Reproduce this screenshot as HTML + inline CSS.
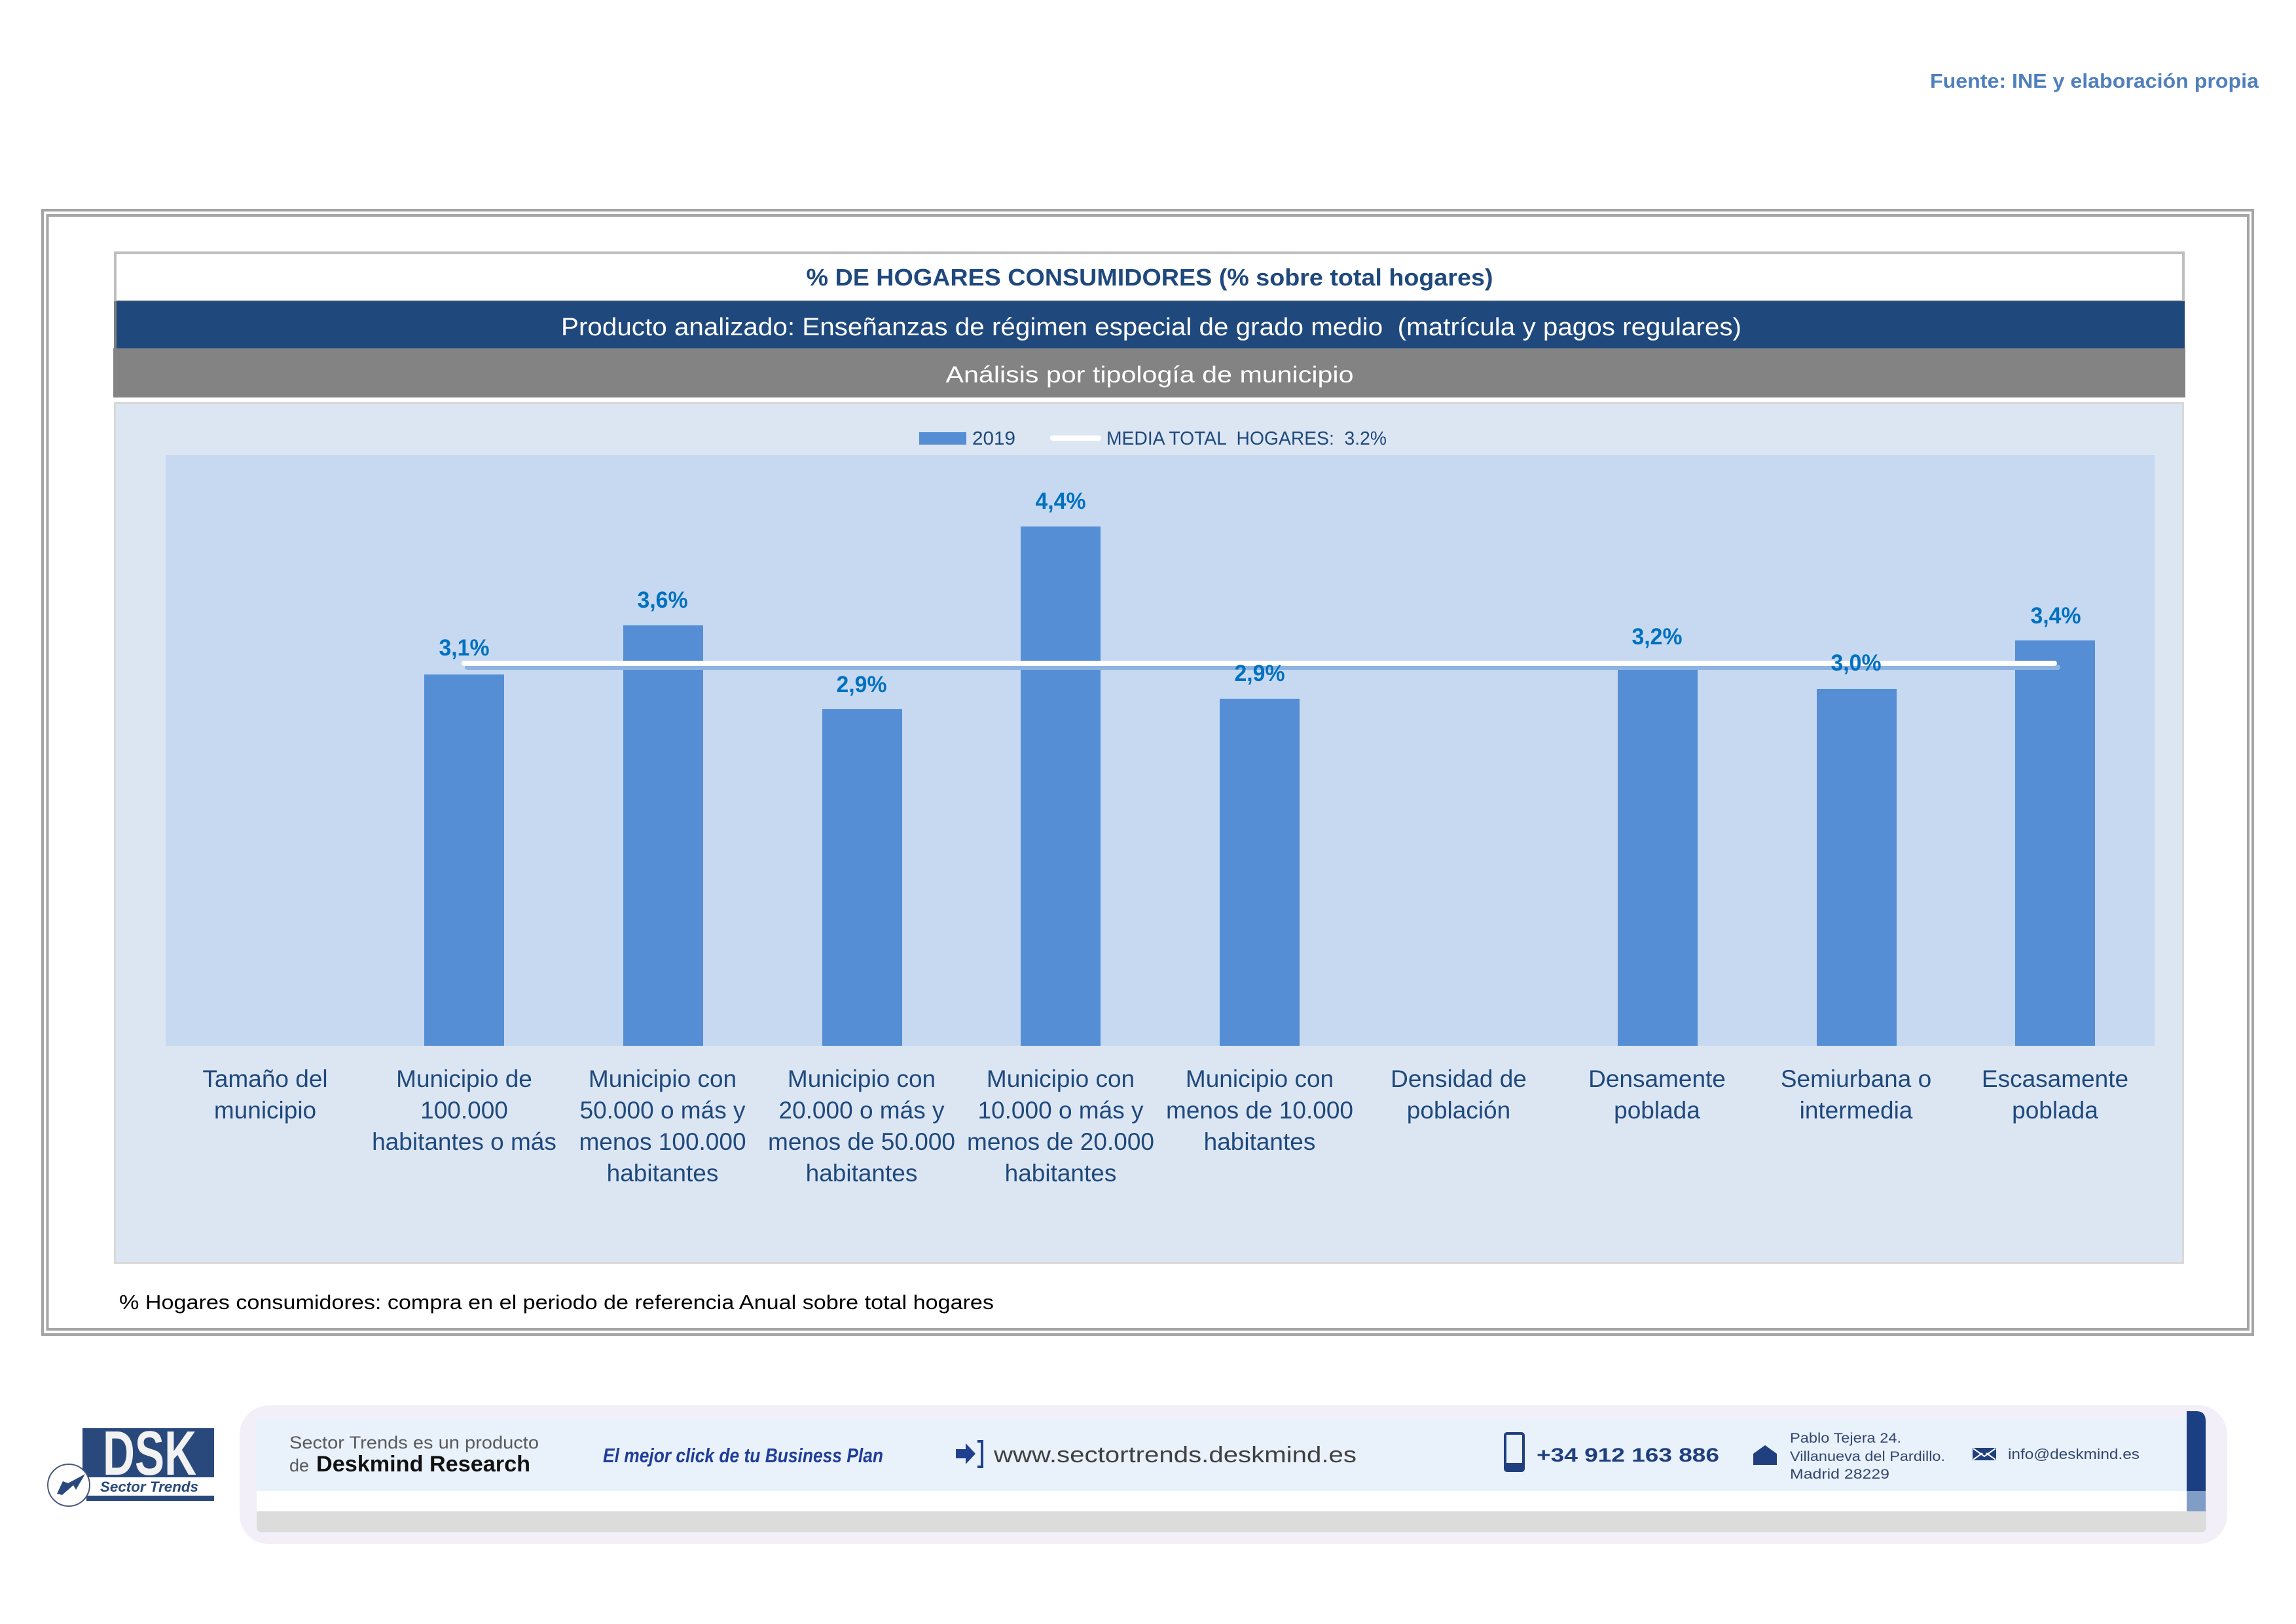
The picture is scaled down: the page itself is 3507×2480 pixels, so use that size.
<!DOCTYPE html>
<html>
<head>
<meta charset="utf-8">
<style>
html,body{margin:0;padding:0;background:#ffffff;}
body{width:3507px;height:2480px;overflow:hidden;}
svg{display:block;}
text{font-family:"Liberation Sans",Arial,sans-serif;}
</style>
</head>
<body>
<svg width="3507" height="2480" viewBox="0 0 3507 2480" xmlns="http://www.w3.org/2000/svg">
<rect x="0" y="0" width="3507" height="2480" fill="#ffffff"/>

<!-- Source -->
<text x="2948" y="134" font-size="31" font-weight="bold" fill="#4f7fbd" textLength="502" lengthAdjust="spacingAndGlyphs">Fuente: INE y elaboración propia</text>

<!-- Outer double border -->
<rect x="65" y="321" width="3376" height="1717" fill="none" stroke="#a5a5a5" stroke-width="4"/>
<rect x="72.5" y="329" width="3361.5" height="1701" fill="none" stroke="#a5a5a5" stroke-width="4"/>

<!-- Title box -->
<rect x="176" y="386" width="3159" height="74" fill="#ffffff" stroke="#bfbfbf" stroke-width="4"/>
<text x="1756" y="436" font-size="36" font-weight="bold" fill="#1f497d" text-anchor="middle" textLength="1049" lengthAdjust="spacingAndGlyphs">% DE HOGARES CONSUMIDORES (% sobre total hogares)</text>

<!-- Blue band -->
<rect x="174" y="460" width="3163" height="72" fill="#1f497d"/>
<rect x="174" y="460" width="4" height="72" fill="#7f7f7f"/>
<text x="857" y="512" font-size="38" fill="#ffffff" textLength="1803" lengthAdjust="spacingAndGlyphs">Producto analizado: Enseñanzas de régimen especial de grado medio &#160;(matrícula y pagos regulares)</text>

<!-- Grey band -->
<rect x="173" y="532" width="3165" height="75" fill="#838383"/>
<text x="1756" y="584" font-size="35" fill="#ffffff" text-anchor="middle" textLength="623" lengthAdjust="spacingAndGlyphs">Análisis por tipología de municipio</text>

<!-- Chart area -->
<rect x="175.5" y="615.5" width="3159" height="1313" fill="#dce6f2" stroke="#d9d9d9" stroke-width="3"/>

<!-- Legend -->
<rect x="1404" y="660" width="72" height="19" fill="#558ed5"/>
<text x="1485" y="679" font-size="29" fill="#1f497d" textLength="66" lengthAdjust="spacingAndGlyphs">2019</text>
<line x1="1608" y1="669" x2="1678" y2="669" stroke="#ffffff" stroke-width="8" stroke-linecap="round"/>
<text x="1690" y="679" font-size="29" fill="#1f497d" textLength="428" lengthAdjust="spacingAndGlyphs">MEDIA TOTAL &#160;HOGARES: &#160;3.2%</text>

<!-- Plot area -->
<rect x="253" y="695" width="3038" height="902" fill="#c6d9f0"/>

<!-- Bars -->
<g fill="#558ed5">
<rect x="648" y="1030" width="122" height="567"/>
<rect x="952" y="955" width="122" height="642"/>
<rect x="1256" y="1083" width="122" height="514"/>
<rect x="1559" y="804" width="122" height="793"/>
<rect x="1863" y="1067" width="122" height="530"/>
<rect x="2471" y="1012" width="122" height="585"/>
<rect x="2775" y="1052" width="122" height="545"/>
<rect x="3078" y="978" width="122" height="619"/>
</g>

<!-- Mean line -->
<line x1="714" y1="1019" x2="3143" y2="1019" stroke="#8db3e2" stroke-width="8" stroke-linecap="round"/>
<line x1="709" y1="1013" x2="3138" y2="1013" stroke="#ffffff" stroke-width="8" stroke-linecap="round"/>

<!-- Data labels -->
<g font-size="35" font-weight="bold" fill="#0070c0" text-anchor="middle">
<text x="709" y="1001" textLength="77" lengthAdjust="spacingAndGlyphs">3,1%</text>
<text x="1012" y="928" textLength="77" lengthAdjust="spacingAndGlyphs">3,6%</text>
<text x="1316" y="1057" textLength="77" lengthAdjust="spacingAndGlyphs">2,9%</text>
<text x="1620" y="777" textLength="77" lengthAdjust="spacingAndGlyphs">4,4%</text>
<text x="1924" y="1040" textLength="77" lengthAdjust="spacingAndGlyphs">2,9%</text>
<text x="2531" y="984" textLength="77" lengthAdjust="spacingAndGlyphs">3,2%</text>
<text x="2835" y="1024" textLength="77" lengthAdjust="spacingAndGlyphs">3,0%</text>
<text x="3140" y="952" textLength="77" lengthAdjust="spacingAndGlyphs">3,4%</text>
</g>

<!-- Axis labels -->
<g font-size="37" fill="#1f497d" text-anchor="middle">
<text x="405" y="1660">Tamaño del</text>
<text x="405" y="1708">municipio</text>

<text x="709" y="1660">Municipio de</text>
<text x="709" y="1708">100.000</text>
<text x="709" y="1756">habitantes o más</text>

<text x="1012" y="1660">Municipio con</text>
<text x="1012" y="1708">50.000 o más y</text>
<text x="1012" y="1756">menos 100.000</text>
<text x="1012" y="1804">habitantes</text>

<text x="1316" y="1660">Municipio con</text>
<text x="1316" y="1708">20.000 o más y</text>
<text x="1316" y="1756">menos de 50.000</text>
<text x="1316" y="1804">habitantes</text>

<text x="1620" y="1660">Municipio con</text>
<text x="1620" y="1708">10.000 o más y</text>
<text x="1620" y="1756">menos de 20.000</text>
<text x="1620" y="1804">habitantes</text>

<text x="1924" y="1660">Municipio con</text>
<text x="1924" y="1708">menos de 10.000</text>
<text x="1924" y="1756">habitantes</text>

<text x="2228" y="1660">Densidad de</text>
<text x="2228" y="1708">población</text>

<text x="2531" y="1660">Densamente</text>
<text x="2531" y="1708">poblada</text>

<text x="2835" y="1660">Semiurbana o</text>
<text x="2835" y="1708">intermedia</text>

<text x="3139" y="1660">Escasamente</text>
<text x="3139" y="1708">poblada</text>
</g>

<!-- Footnote -->
<text x="182" y="1999" font-size="31" fill="#000000" textLength="1336" lengthAdjust="spacingAndGlyphs">% Hogares consumidores: compra en el periodo de referencia Anual sobre total hogares</text>

<!-- Footer: logo -->
<rect x="126" y="2181" width="201" height="75" fill="#29497c"/>
<text x="157" y="2252" font-size="96" font-weight="bold" fill="#f2f2f2" textLength="143" lengthAdjust="spacingAndGlyphs">DSK</text>
<text x="153" y="2278" font-size="22" font-style="italic" font-weight="bold" fill="#29497c" textLength="150" lengthAdjust="spacingAndGlyphs">Sector Trends</text>
<rect x="132" y="2284" width="195" height="8" fill="#29497c"/>
<circle cx="105" cy="2268" r="32" fill="#ffffff" stroke="#4a5a7a" stroke-width="2"/>
<polygon points="87,2281 96,2262 104,2265 130,2251 116,2275 112,2268 95,2283" fill="#29497c"/>

<!-- Footer: banner -->
<rect x="366" y="2146" width="3036" height="212" rx="45" fill="#f2eff8"/>
<rect x="392" y="2300" width="2978" height="40" rx="8" fill="#dcdcdc"/>
<rect x="392" y="2165" width="2977" height="143" fill="#ffffff"/>
<rect x="392" y="2165" width="2948" height="112" fill="#e9f1fb"/>
<path d="M3340 2155 H3355 Q3369 2155 3369 2170 V2277 H3340 Z" fill="#1c3f84"/>
<rect x="3340" y="2277" width="29" height="31" fill="#7f9dc6"/>

<text x="442" y="2212" font-size="27" fill="#5a5a5a" textLength="381" lengthAdjust="spacingAndGlyphs">Sector Trends es un producto</text>
<text x="442" y="2247" font-size="27" fill="#5a5a5a" textLength="30" lengthAdjust="spacingAndGlyphs">de</text>
<text x="483" y="2247" font-size="34" font-weight="bold" fill="#111111" textLength="327" lengthAdjust="spacingAndGlyphs">Deskmind Research</text>

<text x="921" y="2233" font-size="31" font-weight="bold" font-style="italic" fill="#1f3d99" textLength="428" lengthAdjust="spacingAndGlyphs">El mejor click de tu Business Plan</text>

<polygon points="1460,2213 1475,2213 1475,2204 1490,2220 1475,2236 1475,2227 1460,2227" fill="#1f3f8f"/>
<path d="M1493 2201 H1500 V2240 H1493" fill="none" stroke="#1f3f8f" stroke-width="4"/>
<text x="1518" y="2233" font-size="34" fill="#404040" textLength="554" lengthAdjust="spacingAndGlyphs">www.sectortrends.deskmind.es</text>

<rect x="2299" y="2189" width="28" height="57" rx="3" fill="none" stroke="#1f3f7f" stroke-width="4"/>
<rect x="2299" y="2234" width="28" height="12" fill="#1f3f7f"/>
<text x="2347" y="2232" font-size="30" font-weight="bold" fill="#1f3f7f" textLength="279" lengthAdjust="spacingAndGlyphs">+34 912 163 886</text>

<polygon points="2696,2207 2714,2220 2714,2237 2678,2237 2678,2220" fill="#1f3f7f"/>
<text x="2734" y="2203" font-size="21" fill="#33466e" textLength="170" lengthAdjust="spacingAndGlyphs">Pablo Tejera 24.</text>
<text x="2734" y="2231" font-size="21" fill="#33466e" textLength="237" lengthAdjust="spacingAndGlyphs">Villanueva del Pardillo.</text>
<text x="2734" y="2258" font-size="21" fill="#33466e" textLength="152" lengthAdjust="spacingAndGlyphs">Madrid 28229</text>

<rect x="3013" y="2211" width="36" height="19" fill="#1f3f7f"/>
<path d="M3014 2212 L3031 2224 L3048 2212 M3014 2229 L3028 2219 M3048 2229 L3034 2219" stroke="#ffffff" stroke-width="2" fill="none"/>
<text x="3067" y="2228" font-size="22" fill="#33466e" textLength="201" lengthAdjust="spacingAndGlyphs">info@deskmind.es</text>
</svg>
</body>
</html>
